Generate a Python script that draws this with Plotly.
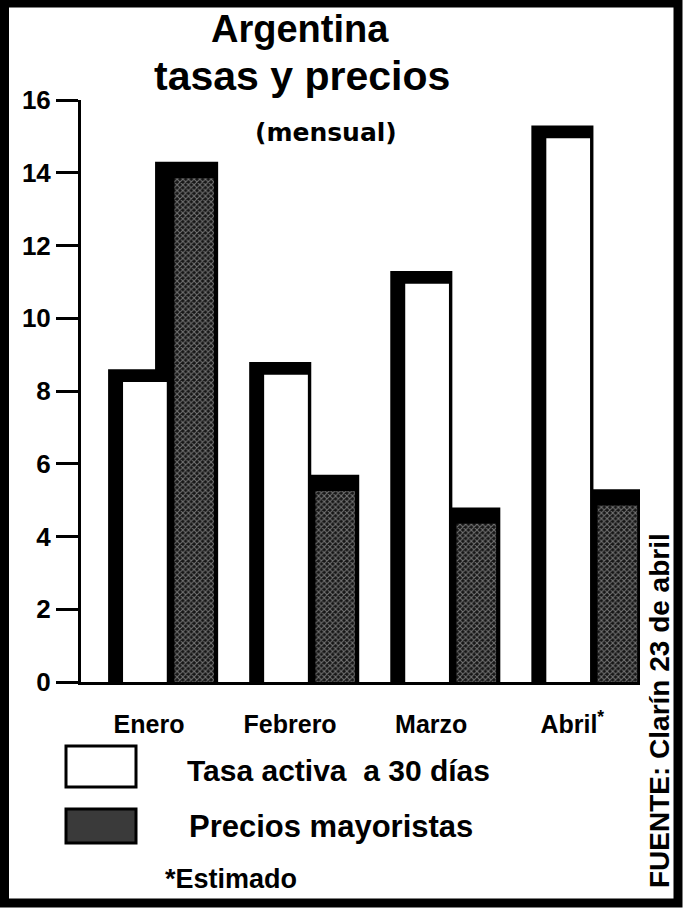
import plotly.graph_objects as go

# ---- data ----
meses = ["Enero", "Febrero", "Marzo", "Abril"]
meses_etiqueta = ["Enero", "Febrero", "Marzo", "Abril<sup>*</sup>"]
tasa_activa = [8.6, 8.8, 11.3, 15.3]          # Tasa activa a 30 días (%)
precios_mayoristas = [14.3, 5.7, 4.8, 5.3]    # Precios mayoristas (%)
y_ticks = [0, 2, 4, 6, 8, 10, 12, 14, 16]

# ---- geometry / styling ----
W, H = 683, 908
ML, MR, MT, MB = 81, 43, 100, 226
PW = W - ML - MR
PH = H - MT - MB
FONT = "Liberation Sans, Arial, sans-serif"


def px(xp):
    return (xp - ML) / PW


def py(yp):
    return (H - MB - yp) / PH


x = list(range(len(meses)))
BAND_T = 0.35   # thickness of the black top edge of the white bars (value units)
BAND_P = 0.45   # thickness of the black top edge of the dark bars

fig = go.Figure()
# dark bars: black 3-D body
fig.add_bar(x=x, y=precios_mayoristas, offset=-0.057, width=0.447,
            marker=dict(color="black", line=dict(width=0)), hoverinfo="skip")
# dark bars: textured face
fig.add_bar(x=x, y=[v - BAND_P for v in precios_mayoristas], offset=0.08, width=0.28,
            marker=dict(color="#1a1a1a", line=dict(width=0),
                        pattern=dict(shape="x", fgcolor="#d2d2d2", bgcolor="#161616",
                                     size=4, solidity=0.45)),
            hoverinfo="skip")
# white bars: black 3-D body
fig.add_bar(x=x, y=tasa_activa, offset=-0.39, width=0.44,
            marker=dict(color="black", line=dict(width=0)), hoverinfo="skip")
# white bars: face
fig.add_bar(x=x, y=[v - BAND_T for v in tasa_activa], offset=-0.284, width=0.31,
            marker=dict(color="white", line=dict(width=0)), hoverinfo="skip")

annotations = [
    dict(text="Argentina", x=px(300), y=py(29), font=dict(size=38, weight=700)),
    dict(text="tasas y precios", x=px(302), y=py(76), font=dict(size=41, weight=700)),
    dict(text="(mensual)", x=px(326), y=py(132),
         font=dict(size=25, weight=700, family="DejaVu Sans, sans-serif")),
    dict(text="Tasa activa\u00a0 a 30 días", x=px(185), y=py(770), xanchor="left",
         font=dict(size=30, weight=700)),
    dict(text="Precios mayoristas", x=px(187), y=py(826), xanchor="left",
         font=dict(size=31, weight=700)),
    dict(text="*Estimado", x=px(163), y=py(879), xanchor="left",
         font=dict(size=27, weight=700)),
    dict(text="FUENTE: Clarín 23 de abril", x=px(659), y=py(710), textangle=-90,
         font=dict(size=28, weight=700)),
]
for a in annotations:
    a.setdefault("xanchor", "center")
    a.update(xref="paper", yref="paper", yanchor="middle", showarrow=False)
    a["font"].setdefault("family", FONT)
    a["font"]["color"] = "black"

shapes = [
    # outer frame
    dict(type="rect", xref="paper", yref="paper",
         x0=px(4.5), x1=px(678), y0=py(3), y1=py(903),
         line=dict(color="black", width=9), fillcolor="rgba(0,0,0,0)", layer="above"),
    # legend swatches
    dict(type="rect", xref="paper", yref="paper",
         x0=px(66), x1=px(136), y0=py(746), y1=py(787),
         line=dict(color="black", width=3), fillcolor="white"),
    dict(type="rect", xref="paper", yref="paper",
         x0=px(66), x1=px(136), y0=py(809), y1=py(843),
         line=dict(color="black", width=3), fillcolor="#3a3a3a"),
]

fig.update_layout(
    width=W, height=H,
    margin=dict(l=ML, r=MR, t=MT, b=MB),
    paper_bgcolor="white", plot_bgcolor="white",
    barmode="overlay", showlegend=False,
    font=dict(family=FONT, color="black"),
    annotations=annotations, shapes=shapes,
    xaxis=dict(range=[-0.582, 3.38], tickvals=[i - 0.1 for i in x], ticktext=meses_etiqueta,
               showline=True, linecolor="black", linewidth=3, ticks="",
               ticklabelstandoff=18, tickfont=dict(size=25, weight=700, family=FONT),
               showgrid=False, zeroline=False, fixedrange=True),
    yaxis=dict(range=[0, 16], tickvals=y_ticks, showline=True, linecolor="black",
               linewidth=3, ticks="outside", ticklen=22, tickwidth=3, tickcolor="black",
               tickfont=dict(size=26, weight=700, family=FONT),
               showgrid=False, zeroline=False, fixedrange=True),
)

fig.write_html("out.html", config={"displayModeBar": False},
               post_script="document.body.style.margin='0';"
                           "document.body.style.overflow='hidden';")
